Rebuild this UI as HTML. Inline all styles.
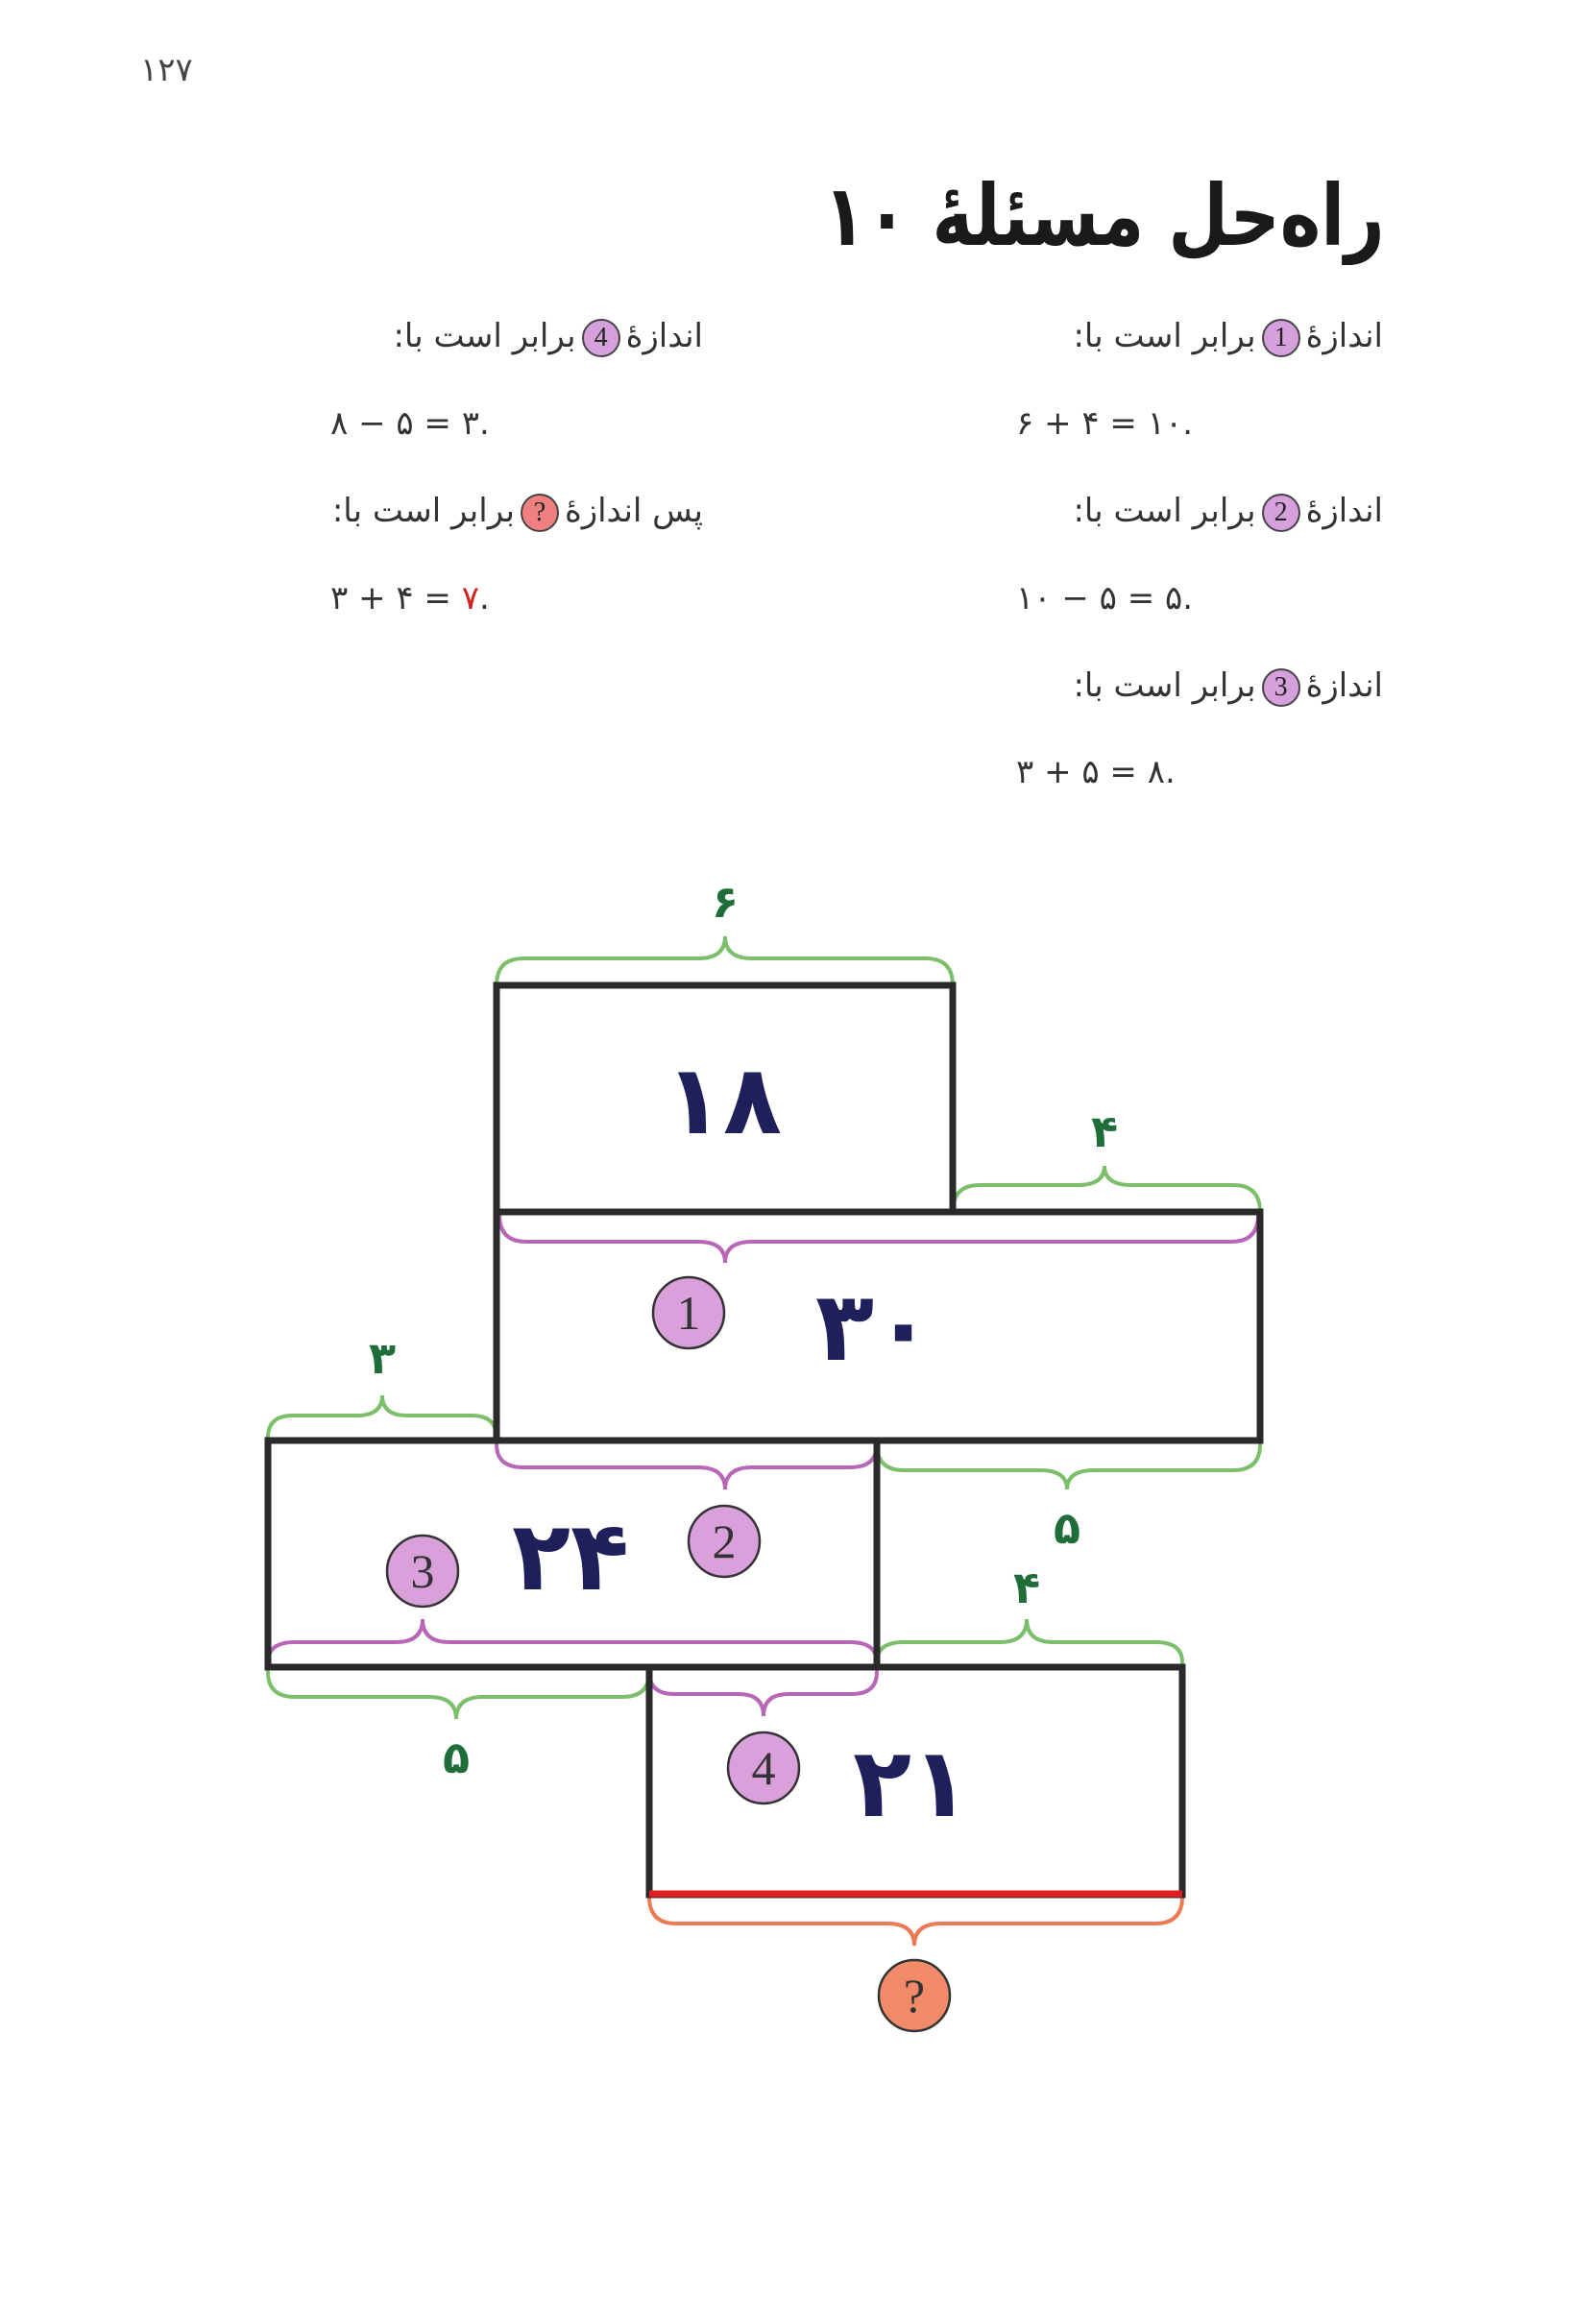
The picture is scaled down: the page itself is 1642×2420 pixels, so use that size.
<!DOCTYPE html>
<html><head><meta charset="utf-8">
<style>
body{margin:0;background:#fff;}
#p{position:relative;width:1642px;height:2420px;overflow:hidden;background:#fff;font-family:"DejaVu Sans","Liberation Sans",sans-serif;color:#333;}
.t{position:absolute;direction:rtl;white-space:nowrap;font-size:34px;line-height:50px;}
.e{position:absolute;direction:ltr;white-space:nowrap;font-size:34px;line-height:50px;}
.c{display:inline-block;width:36px;height:36px;border-radius:50%;background:#d6a0dc;border:2px solid #444;font-family:"Liberation Serif",serif;font-size:28px;line-height:36px;text-align:center;vertical-align:middle;direction:ltr;color:#222;margin:0 6px;}
.q{background:#f08080;}
</style></head><body>
<div id="p">
<div class="e" style="left:146px;top:48px;font-size:34px;color:#444;">۱۲۷</div>
<div class="t" style="right:200px;top:170px;font-size:88px;line-height:110px;font-weight:bold;color:#1a1a1a;transform:scaleX(0.82);transform-origin:right center;">راه‌حل مسئلهٔ ۱۰</div>

<div class="t" style="right:202px;top:325px;">اندازهٔ<span class="c">1</span>برابر است با:</div>
<div class="e" style="left:1058px;top:416px;">۶ + ۴ = ۱۰.</div>
<div class="t" style="right:202px;top:507px;">اندازهٔ<span class="c">2</span>برابر است با:</div>
<div class="e" style="left:1058px;top:598px;">۱۰ − ۵ = ۵.</div>
<div class="t" style="right:202px;top:689px;">اندازهٔ<span class="c">3</span>برابر است با:</div>
<div class="e" style="left:1058px;top:779px;">۳ + ۵ = ۸.</div>

<div class="t" style="right:910px;top:325px;">اندازهٔ<span class="c">4</span>برابر است با:</div>
<div class="e" style="left:344px;top:416px;">۸ − ۵ = ۳.</div>
<div class="t" style="right:910px;top:507px;">پس اندازهٔ<span class="c q">?</span>برابر است با:</div>
<div class="e" style="left:344px;top:598px;">۳ + ۴ = <span style="color:#d42020">۷</span>.</div>

<svg width="1642" height="2420" style="position:absolute;left:0;top:0" xmlns="http://www.w3.org/2000/svg">
<g fill="none" stroke-width="4" stroke-linecap="round">
<g stroke="#7cbf6a">
<path d="M517,1026 Q517,998 545,998 L727,998 Q755,998 755,975 Q755,998 783,998 L964,998 Q992,998 992,1026"/>
<path d="M992,1262 Q992,1234 1020,1234 L1122,1234 Q1150,1234 1150,1214 Q1150,1234 1178,1234 L1284,1234 Q1312,1234 1312,1262"/>
<path d="M279,1497 Q279,1474 305,1474 L372,1474 Q398,1474 398,1453 Q398,1474 424,1474 L491,1474 Q517,1474 517,1497"/>
<path d="M913,1504 Q913,1531 941,1531 L1083,1531 Q1111,1531 1111,1551 Q1111,1531 1139,1531 L1284,1531 Q1312,1531 1312,1504"/>
<path d="M913,1731 Q913,1710 941,1710 L1041,1710 Q1069,1710 1069,1686 Q1069,1710 1097,1710 L1203,1710 Q1231,1710 1231,1731"/>
<path d="M279,1741 Q279,1767 307,1767 L447,1767 Q475,1767 475,1790 Q475,1767 503,1767 L648,1767 Q676,1767 676,1741"/>
</g>
<g stroke="#b866b8">
<path d="M520,1265 Q520,1293 548,1293 L727,1293 Q755,1293 755,1315 Q755,1293 783,1293 L1282,1293 Q1310,1293 1310,1265"/>
<path d="M517,1504 Q517,1528 545,1528 L727,1528 Q755,1528 755,1551 Q755,1528 783,1528 L885,1528 Q913,1528 913,1504"/>
<path d="M279,1731 Q279,1710 307,1710 L412,1710 Q440,1710 440,1686 Q440,1710 468,1710 L885,1710 Q913,1710 913,1731"/>
<path d="M676,1741 Q676,1764 702,1764 L769,1764 Q795,1764 795,1787 Q795,1764 821,1764 L887,1764 Q913,1764 913,1741"/>
</g>
<path stroke="#ec7a55" d="M676,1975 Q676,2003 704,2003 L924,2003 Q952,2003 952,2026 Q952,2003 980,2003 L1203,2003 Q1231,2003 1231,1975"/>
</g>
<g fill="none" stroke="#2a2a2a" stroke-width="7">
<rect x="517" y="1026" width="475" height="236"/>
<rect x="517" y="1262" width="795" height="238"/>
<rect x="279" y="1500" width="634" height="236"/>
<rect x="676" y="1736" width="555" height="237"/>
</g>
<line x1="676" y1="1972" x2="1231" y2="1972" stroke="#e02020" stroke-width="7"/>
<g fill="#d9a0dc" stroke="#333" stroke-width="2.5">
<circle cx="717" cy="1367" r="37"/>
<circle cx="754" cy="1605" r="37"/>
<circle cx="440" cy="1636" r="37"/>
<circle cx="795" cy="1841" r="37"/>
<circle cx="952" cy="2078" r="37" fill="#f08a68"/>
</g>
<g font-family="Liberation Serif, serif" font-size="50" fill="#333" text-anchor="middle">
<text x="717" y="1384">1</text><text x="754" y="1622">2</text><text x="440" y="1653">3</text><text x="795" y="1858">4</text><text x="952" y="2095">?</text>
</g>
<g font-family="DejaVu Sans, sans-serif" font-weight="bold" font-size="100" fill="#1f1f5c" text-anchor="middle">
<text x="753" y="1180">۱۸</text>
<text x="910" y="1416">۳۰</text>
<text x="594" y="1655">۲۴</text>
<text x="949" y="1891">۲۱</text>
</g>
<g font-family="DejaVu Sans, sans-serif" font-weight="bold" font-size="46" fill="#1f6e3a" text-anchor="middle">
<text x="755" y="955">۶</text>
<text x="1150" y="1194">۴</text>
<text x="398" y="1430">۳</text>
<text x="1111" y="1607">۵</text>
<text x="1069" y="1669">۴</text>
<text x="475" y="1846">۵</text>
</g>
</svg>
</div>
</body></html>
